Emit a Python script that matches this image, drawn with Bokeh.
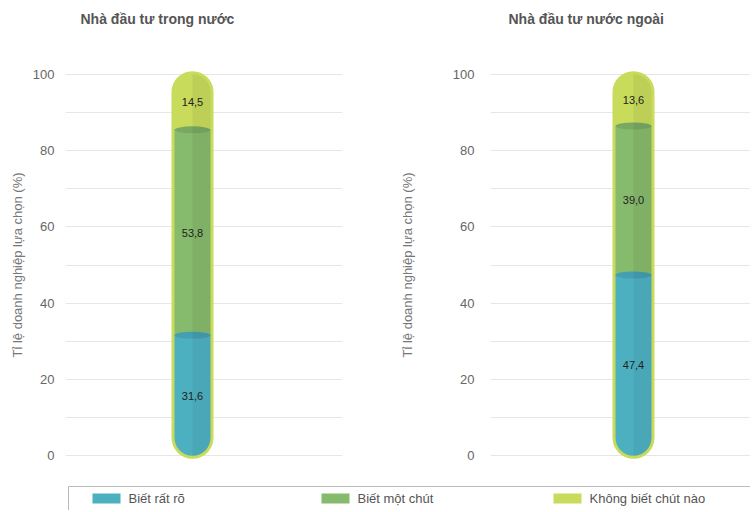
from bokeh.plotting import figure
from bokeh.layouts import row, column
from bokeh.models import Range1d, FixedTicker, ColumnDataSource
from bokeh.core.properties import value
from bokeh.embed import file_html
from bokeh.resources import INLINE

# ---- data ----
panels = ["Nhà đầu tư trong nước", "Nhà đầu tư nước ngoài"]
series = ["Biết rất rõ", "Biết một chút", "Không biết chút nào"]
domestic = [31.6, 53.8, 14.5]
foreign = [47.4, 39.0, 13.6]
y_ticks = [0, 20, 40, 60, 80, 100]
grid_ticks = [0, 10, 20, 30, 40, 50, 60, 70, 80, 90, 100]
y_label = "Tỉ lệ doanh nghiệp lựa chọn (%)"

colors = ["#4db0c1", "#86ba6c", "#c8db5b"]
dark_colors = ["#449fb0", "#78a862", "#b5c94c"]
FONT = "Liberation Sans"
W = 750


def strip(height):
    s = figure(width=W, height=height, output_backend="svg",
               toolbar_location=None, x_range=Range1d(0, W),
               y_range=Range1d(0, height), min_border_left=0,
               min_border_right=0, min_border_top=0, min_border_bottom=0)
    s.axis.visible = False
    s.grid.visible = False
    s.outline_line_color = None
    return s


def make_panel(vals, fw, border_left, border_right, xr, tick_standoff,
               label_standoff):
    p = figure(width=fw, height=442, output_backend="svg", toolbar_location=None,
               x_range=Range1d(*xr), y_range=Range1d(-2, 102),
               min_border_left=border_left, min_border_right=border_right,
               min_border_top=30, min_border_bottom=15)
    p.title_location = None
    p.outline_line_color = None
    p.xaxis.visible = False
    p.xgrid.visible = False
    p.ygrid.ticker = FixedTicker(ticks=grid_ticks)
    p.ygrid.grid_line_color = "#e6e6e6"
    p.yaxis.ticker = FixedTicker(ticks=y_ticks)
    p.yaxis.axis_line_color = None
    p.yaxis.major_tick_line_color = None
    p.yaxis.minor_tick_line_color = None
    p.yaxis.major_label_text_font = FONT
    p.yaxis.major_label_text_font_size = "13px"
    p.yaxis.major_label_text_color = "#666666"
    p.yaxis.major_label_standoff = tick_standoff
    p.yaxis.axis_label = y_label
    p.yaxis.axis_label_text_font = FONT
    p.yaxis.axis_label_text_font_size = "13px"
    p.yaxis.axis_label_text_font_style = "normal"
    p.yaxis.axis_label_text_color = "#777777"
    p.yaxis.axis_label_standoff = label_standoff

    bottoms = [sum(vals[:i]) for i in range(len(vals))]
    tops = [b + v for b, v in zip(bottoms, vals)]
    top_all = max(100, tops[-1])

    # outer tube (glass border)
    p.vbar(x=[0], bottom=[0], top=[top_all], width=36, fill_color=colors[2],
           line_color=colors[2], line_width=6, border_radius=18)

    # segments
    radii = [(0, 0, 18, 18), 0, (18, 18, 0, 0)]
    for i, (b, t_, c) in enumerate(zip(bottoms, tops, colors)):
        tt = top_all if i == len(vals) - 1 else t_
        p.vbar(x=[0], bottom=[b], top=[tt], width=36, fill_color=c,
               line_color=None, border_radius=radii[i])

    # liquid surfaces
    for i in range(len(vals) - 1):
        p.ellipse(x=[0], y=[tops[i]], width=36, height=7, height_units="screen",
                  fill_color=dark_colors[i], line_color=None)

    # right-half shading
    p.vbar(x=[9], bottom=[0], top=[top_all], width=18, fill_color="black",
           fill_alpha=0.05, line_color=None, border_radius=(0, 18, 18, 0))

    mids = [b + v / 2 for b, v in zip(bottoms, vals)]
    labels = [f"{v:.1f}".replace(".", ",") for v in vals]
    src = ColumnDataSource(dict(x=[0] * len(vals), y=mids, t=labels))
    p.text(x="x", y="y", text="t", source=src, text_align="center",
           text_baseline="middle", text_font=value(FONT),
           text_font_size="11px", text_color="#222222")
    return p


# ---- title strip ----
tt = strip(36)
tt.text(x=[80, 508], y=[18, 18], text=panels, text_baseline="middle",
        text_font=value(FONT), text_font_size="14px", text_font_style="bold",
        text_color="#555555")

p1 = make_panel(domestic, 376, 65, 34, (-127, 150), 5, 5)
p2 = make_panel(foreign, 374, 114, 0, (-143, 117), 10, 35)

# ---- legend strip ----
lg = strip(32)
lg.quad(left=[68], right=[780], bottom=[-10], top=[24], fill_color=None,
        line_color="#bbbbbb", line_width=1)
sw_x = [106, 335, 567]
lg.rect(x=sw_x, y=[12, 12, 12], width=28, height=10, fill_color=colors,
        line_color=None)
lg.text(x=[x + 22 for x in sw_x], y=[12, 12, 12], text=series,
        text_baseline="middle", text_font=value(FONT), text_font_size="13px",
        text_color="#555555")

layout = column(tt, row(p1, p2), lg)
open("out.html", "w").write(file_html(layout, INLINE))
